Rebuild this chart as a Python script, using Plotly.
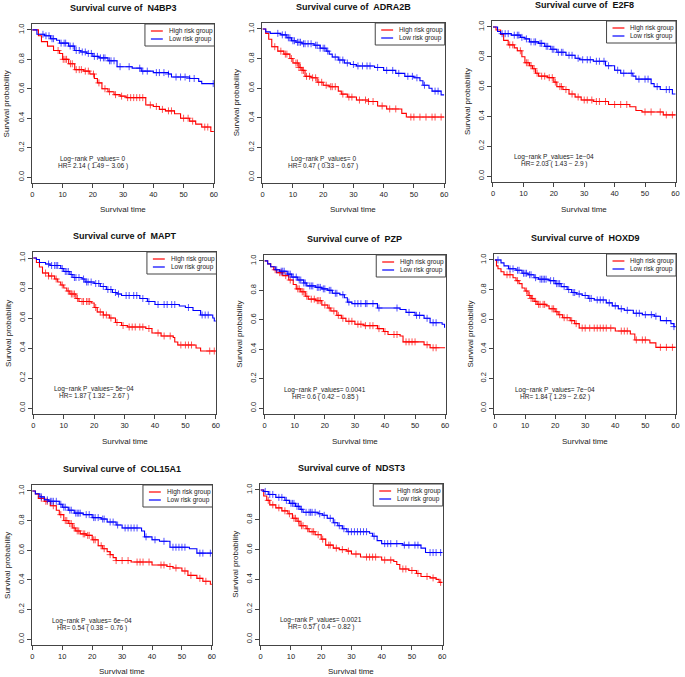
import numpy as np
import plotly.graph_objects as go

W, H = 685, 677
FOLLOW_UP = 60

GENES = ["N4BP3", "ADRA2B", "E2F8", "MAPT", "PZP", "HOXD9", "COL15A1", "NDST3"]
P_VALUES = ["0", "0", "1e−04", "5e−04", "0.0041", "7e−04", "6e−04", "0.0021"]
HR_TEXT = ["2.14 ( 1.49 − 3.06 )", "0.47 ( 0.33 − 0.67 )", "2.03 ( 1.43 − 2.9 )",
           "1.87 ( 1.32 − 2.67 )", "0.6 ( 0.42 − 0.85 )", "1.84 ( 1.29 − 2.62 )",
           "0.54 ( 0.38 − 0.76 )", "0.57 ( 0.4 − 0.82 )"]
GROUPS = ["High risk group", "Low risk group"]
X_TICKS = [0, 10, 20, 30, 40, 50, 60]
Y_TICKS = [0.0, 0.2, 0.4, 0.6, 0.8, 1.0]
Y_TICK_LABELS = ["0.0", "0.2", "0.4", "0.6", "0.8", "1.0"]

# ---- N4BP3 ----
N4BP3_high_time = [0, 2, 3, 5, 7, 9, 10, 12, 14, 17, 19, 20.5, 21.5, 23, 25, 27, 29, 31, 37.5, 40, 42, 44, 47, 49, 52, 54, 56, 59]
N4BP3_high_surv = [1.0, 0.96, 0.92, 0.89, 0.86, 0.84, 0.80, 0.77, 0.73, 0.72, 0.70, 0.67, 0.64, 0.60, 0.58, 0.56, 0.55, 0.54, 0.49, 0.48, 0.46, 0.45, 0.43, 0.40, 0.38, 0.36, 0.34, 0.31]
N4BP3_high_cens = [8.5, 10.2, 10.8, 11.3, 12.6, 13.2, 14.5, 15.5, 16.2, 17.5, 18.5, 20.2, 22, 24, 25.5, 27.5, 29.5, 31.5, 32.5, 33.5, 34.5, 35.5, 36.5, 39, 41, 43, 45, 46, 50, 51.5, 53, 57, 58]
N4BP3_low_time = [0, 1.5, 4, 6, 8, 9, 12, 14, 16, 18, 20, 22, 25, 28, 33, 36, 40, 45, 46, 52, 55, 56]
N4BP3_low_surv = [1.0, 0.97, 0.96, 0.94, 0.93, 0.91, 0.89, 0.86, 0.85, 0.84, 0.82, 0.81, 0.79, 0.75, 0.74, 0.72, 0.71, 0.70, 0.68, 0.67, 0.65, 0.635]
N4BP3_low_cens = [3.5, 4.5, 5.5, 6.5, 7, 9.5, 10.5, 11, 12.5, 13.5, 14.5, 15.5, 16.5, 17.5, 18.5, 19.5, 20.5, 21.5, 22.5, 23.5, 24, 25.5, 26, 27, 29, 32, 35.5, 36.5, 38, 41, 42, 43.5, 45, 47.5, 49, 50.5, 52, 53.5, 59.8]

# ---- ADRA2B ----
ADRA2B_high_time = [0, 1, 2, 3, 5, 7, 9, 10, 12, 13, 14, 16, 18, 20, 22, 25, 26, 28, 31, 35, 38, 41, 46, 47.5]
ADRA2B_high_surv = [1.0, 0.97, 0.93, 0.88, 0.85, 0.83, 0.80, 0.77, 0.74, 0.72, 0.68, 0.67, 0.64, 0.62, 0.61, 0.58, 0.56, 0.54, 0.52, 0.51, 0.48, 0.46, 0.43, 0.405]
ADRA2B_high_cens = [4, 6, 7.5, 8, 9.5, 11, 11.5, 12, 12.5, 13, 13.5, 14.5, 15.5, 16.5, 17.5, 18.5, 19.5, 21, 22.5, 23, 24, 26.5, 28.5, 29.5, 32, 34, 35, 36.5, 39.5, 42, 44, 49, 50, 52, 54, 56, 57, 59]
ADRA2B_low_time = [0, 1, 2.5, 6, 8, 9.5, 11, 13, 17, 19, 21, 22, 23, 25, 27, 29, 31, 37, 40, 44, 47, 50, 52, 53, 55, 56, 59]
ADRA2B_low_surv = [1.0, 0.98, 0.97, 0.96, 0.94, 0.92, 0.91, 0.90, 0.89, 0.87, 0.85, 0.83, 0.81, 0.79, 0.77, 0.76, 0.75, 0.74, 0.72, 0.70, 0.68, 0.67, 0.65, 0.62, 0.60, 0.58, 0.555]
ADRA2B_low_cens = [5, 6.5, 7.5, 8.5, 9, 10, 10.5, 11.5, 12, 12.5, 13.5, 14, 15, 16, 17.5, 18, 19, 20, 20.5, 21.5, 24, 25.5, 26.5, 28, 30, 31.5, 33, 34.5, 35.5, 38, 41, 43, 45, 48, 49.5, 51, 53.5, 57, 58]

# ---- E2F8 ----
E2F8_high_time = [0, 1, 2.5, 3.5, 5, 7, 8, 9.5, 10.5, 12, 13, 14, 15, 18, 20, 21, 23, 25, 27, 29, 33, 38, 45, 47, 49, 56]
E2F8_high_surv = [1.0, 0.98, 0.95, 0.91, 0.88, 0.86, 0.84, 0.80, 0.76, 0.74, 0.72, 0.69, 0.67, 0.66, 0.63, 0.60, 0.58, 0.55, 0.53, 0.51, 0.50, 0.48, 0.465, 0.44, 0.43, 0.41]
E2F8_high_cens = [5.5, 6.5, 9, 11, 11.5, 12.5, 13.5, 14.5, 16, 17, 18.5, 19.5, 20.5, 22, 22.5, 24, 26, 28, 30, 31, 32.5, 34, 35, 37, 40, 42, 44, 50, 52, 55, 57, 59]
E2F8_low_time = [0, 1.5, 2.5, 6, 9, 10.5, 12, 15, 17, 19, 21, 24, 27, 28.5, 33, 37, 40, 42, 46, 47, 52, 53, 55, 59]
E2F8_low_surv = [1.0, 0.97, 0.955, 0.945, 0.93, 0.92, 0.90, 0.89, 0.87, 0.85, 0.83, 0.81, 0.79, 0.78, 0.77, 0.74, 0.71, 0.69, 0.67, 0.65, 0.62, 0.60, 0.58, 0.55]
E2F8_low_cens = [3, 4, 5, 7, 8, 8.5, 9.5, 11, 12.5, 13.5, 14, 15.5, 16, 17.5, 18, 19.5, 20, 21.5, 22.5, 23, 25, 26, 28, 29.5, 31, 32, 34, 35, 36.5, 38, 41, 43, 45.5, 48, 50, 51, 54, 57, 58]

# ---- MAPT ----
MAPT_high_time = [0, 1, 2, 3, 5, 7, 8, 9, 10, 11, 12, 14, 15, 19, 20, 21, 23, 25, 27, 29, 31, 37, 39, 42, 46, 46.5, 47.5, 53.5, 55]
MAPT_high_surv = [1.0, 0.97, 0.94, 0.90, 0.88, 0.86, 0.84, 0.82, 0.80, 0.78, 0.76, 0.73, 0.71, 0.70, 0.67, 0.64, 0.62, 0.60, 0.57, 0.55, 0.54, 0.53, 0.50, 0.48, 0.47, 0.44, 0.42, 0.40, 0.38]
MAPT_high_cens = [4, 5, 6, 7.5, 9.5, 11.5, 12.5, 13, 13.5, 14.5, 16, 16.5, 17.5, 18, 18.5, 20.5, 22, 23, 24, 25.5, 27.5, 29.5, 31.5, 32.5, 33.5, 35, 36, 38, 41, 43, 45, 48.5, 50, 51, 52, 58, 59.5]
MAPT_low_time = [0, 1, 2, 4, 5.5, 9, 10, 12, 13, 16, 17, 20, 22, 24, 26, 27.5, 29, 35, 37.5, 40, 48, 50, 52.5, 55, 59, 59.5]
MAPT_low_surv = [1.0, 0.99, 0.97, 0.96, 0.95, 0.93, 0.91, 0.89, 0.87, 0.86, 0.84, 0.83, 0.81, 0.79, 0.77, 0.76, 0.75, 0.73, 0.71, 0.69, 0.68, 0.67, 0.65, 0.62, 0.60, 0.58]
MAPT_low_cens = [5, 6, 7, 7.5, 8, 9.5, 10.5, 11, 11.5, 12.5, 13.5, 14, 15, 16.5, 17.5, 18, 19, 20.5, 21.5, 23, 24.5, 25.5, 27, 28, 30.5, 31.5, 33, 34, 36, 38, 41, 43, 44, 45.5, 46.5, 51, 55.5, 56.5, 57.5]

# ---- PZP ----
PZP_high_time = [0, 1, 2, 3, 4, 6, 8, 9.5, 10.5, 12, 13.5, 14.5, 17, 19, 21, 22, 24, 25.5, 27, 30, 33, 37.5, 39.5, 41, 45, 46, 53, 55]
PZP_high_surv = [1.0, 0.98, 0.96, 0.94, 0.92, 0.90, 0.87, 0.84, 0.81, 0.79, 0.76, 0.74, 0.73, 0.70, 0.68, 0.66, 0.63, 0.61, 0.59, 0.57, 0.56, 0.54, 0.52, 0.50, 0.49, 0.45, 0.43, 0.41]
PZP_high_cens = [3.5, 5, 5.5, 7, 8.5, 11, 11.5, 12.5, 13, 14, 15.5, 16.5, 17.5, 18, 18.5, 20, 21.5, 23, 24.5, 26, 28, 29, 31, 32, 33.5, 35, 36, 38, 40, 43, 44, 47, 48, 49, 50, 54, 56, 57]
PZP_low_time = [0, 1, 2, 3.5, 5, 7.5, 9, 11, 13, 14, 17, 19, 21, 22.5, 25, 26.5, 27.5, 29, 37.5, 45, 47, 50, 53, 55, 59, 59.8]
PZP_low_surv = [1.0, 0.98, 0.96, 0.94, 0.93, 0.91, 0.89, 0.87, 0.85, 0.83, 0.82, 0.81, 0.80, 0.78, 0.77, 0.75, 0.72, 0.71, 0.68, 0.67, 0.65, 0.63, 0.61, 0.58, 0.57, 0.55]
PZP_low_cens = [4, 5.5, 6, 6.5, 8, 8.5, 9.5, 10.5, 11.5, 12, 13, 13.5, 15, 15.5, 16, 17.5, 18, 18.5, 19.5, 20, 21.5, 22, 23.5, 24, 26, 28, 30, 31, 32, 33.5, 34, 36, 38, 44, 48, 50.5, 51.5, 54, 56, 57]

# ---- HOXD9 ----
HOXD9_high_time = [0, 0.5, 1, 2, 3, 6, 7, 8, 9, 10, 11, 12, 13, 14, 17, 18, 20, 21, 22.5, 25, 26.5, 28, 40, 45, 46.5, 51.5, 53.5]
HOXD9_high_surv = [1.0, 0.96, 0.94, 0.92, 0.90, 0.88, 0.86, 0.84, 0.81, 0.79, 0.76, 0.74, 0.72, 0.70, 0.69, 0.67, 0.65, 0.63, 0.61, 0.59, 0.57, 0.54, 0.52, 0.50, 0.46, 0.44, 0.41]
HOXD9_high_cens = [4, 5, 7.5, 10.5, 11.5, 12, 12.5, 13.5, 14.5, 15, 16, 16.5, 19, 19.5, 20.5, 21.5, 23, 24, 25.5, 27, 29, 30, 31.5, 33, 34, 35, 36, 37, 38.5, 42, 43, 44, 47, 49, 50, 55, 57, 59]
HOXD9_low_time = [0, 2, 3, 4.5, 7, 9, 11, 13, 14.5, 18, 20, 22, 24, 25.5, 27, 29, 31, 33, 37, 39, 41, 43, 46, 49, 53, 55, 58.5, 59.5]
HOXD9_low_surv = [1.0, 0.98, 0.96, 0.94, 0.93, 0.91, 0.90, 0.88, 0.87, 0.86, 0.84, 0.82, 0.80, 0.78, 0.77, 0.76, 0.74, 0.73, 0.71, 0.69, 0.67, 0.66, 0.64, 0.63, 0.62, 0.59, 0.57, 0.55]
HOXD9_low_cens = [1, 5, 6, 7.5, 8, 9.5, 10, 10.5, 11.5, 12, 13.5, 15, 15.5, 16, 16.5, 17, 18.5, 19.5, 20.5, 21, 21.5, 23, 24.5, 26, 26.5, 28, 30, 31.5, 32, 34, 35, 36, 38, 40, 42, 44, 47, 48, 50, 52, 53.5, 57, 59.5]

# ---- COL15A1 ----
COL15A1_high_time = [0, 1, 2, 4, 6, 8, 9, 10.5, 12, 13.5, 14.5, 16, 18, 20, 22, 23.5, 25, 26, 27, 28, 33, 40, 45, 47, 50, 52, 55, 57, 59.5]
COL15A1_high_surv = [1.0, 0.98, 0.95, 0.93, 0.90, 0.87, 0.84, 0.80, 0.78, 0.75, 0.73, 0.71, 0.70, 0.67, 0.63, 0.61, 0.59, 0.57, 0.55, 0.53, 0.52, 0.50, 0.49, 0.48, 0.46, 0.43, 0.41, 0.39, 0.37]
COL15A1_high_cens = [3, 4.5, 5, 7, 9.5, 11, 11.5, 12.5, 13, 14, 15, 15.5, 17, 17.5, 18.5, 19, 20.5, 21, 23, 24, 26, 28, 30, 32, 35, 36, 37, 39, 43, 44, 46, 48, 51, 53, 56, 58]
COL15A1_low_time = [0, 1, 2.5, 4, 5.5, 9, 10, 12, 14, 17, 20, 23, 25, 28, 30, 36.5, 37.5, 40, 42.5, 46, 52.5, 55]
COL15A1_low_surv = [1.0, 0.98, 0.96, 0.94, 0.93, 0.91, 0.89, 0.87, 0.85, 0.84, 0.82, 0.81, 0.79, 0.77, 0.75, 0.73, 0.69, 0.67, 0.66, 0.62, 0.61, 0.58]
COL15A1_low_cens = [3, 5, 6, 6.5, 7, 8, 9.5, 10.5, 11, 12.5, 13, 14.5, 15, 15.5, 16, 18, 19, 20.5, 21, 22, 23.5, 24, 26, 27, 28.5, 31, 32, 33, 34, 35, 38, 41, 44, 47, 48, 49, 50, 51, 56, 57, 59.5]

# ---- NDST3 ----
NDST3_high_time = [0, 1, 2, 3, 5, 7, 9, 10.5, 12, 13, 15, 16, 18, 20, 21.5, 24, 26, 28.5, 30, 33, 40, 44, 45, 46, 49, 51.5, 53, 56, 58, 59]
NDST3_high_surv = [1.0, 0.96, 0.93, 0.90, 0.88, 0.86, 0.84, 0.81, 0.79, 0.76, 0.74, 0.72, 0.70, 0.67, 0.63, 0.61, 0.60, 0.59, 0.57, 0.55, 0.53, 0.52, 0.50, 0.47, 0.46, 0.44, 0.42, 0.41, 0.40, 0.38]
NDST3_high_cens = [2.5, 4, 6, 8, 9.5, 11, 11.5, 12.5, 13.5, 14, 15.5, 17, 17.5, 19, 20.5, 22.5, 23, 25, 27, 29, 31.5, 35, 36, 37, 38, 41, 43, 47, 48, 50, 52, 55, 57, 59.5]
NDST3_low_time = [0, 1, 2.5, 5, 8, 9.5, 11.5, 13, 14, 19, 20.5, 22, 24, 25.5, 27, 28.5, 36, 37, 38.5, 40, 47, 53, 54.5]
NDST3_low_surv = [1.0, 0.99, 0.97, 0.95, 0.93, 0.91, 0.89, 0.87, 0.85, 0.84, 0.83, 0.81, 0.78, 0.76, 0.74, 0.72, 0.71, 0.69, 0.66, 0.64, 0.63, 0.61, 0.58]
NDST3_low_cens = [1.5, 3, 4, 6, 7, 8.5, 10, 10.5, 11, 12, 12.5, 13.5, 15, 16, 16.5, 17, 18, 19.5, 21, 23, 24.5, 26, 27.5, 29, 30, 31, 32, 33, 34, 35, 37.5, 41, 42, 43, 45, 47.5, 49, 51, 52, 56, 57, 58, 59.5]

CURVES = {
    "N4BP3": [(N4BP3_high_time, N4BP3_high_surv, N4BP3_high_cens), (N4BP3_low_time, N4BP3_low_surv, N4BP3_low_cens)],
    "ADRA2B": [(ADRA2B_high_time, ADRA2B_high_surv, ADRA2B_high_cens), (ADRA2B_low_time, ADRA2B_low_surv, ADRA2B_low_cens)],
    "E2F8": [(E2F8_high_time, E2F8_high_surv, E2F8_high_cens), (E2F8_low_time, E2F8_low_surv, E2F8_low_cens)],
    "MAPT": [(MAPT_high_time, MAPT_high_surv, MAPT_high_cens), (MAPT_low_time, MAPT_low_surv, MAPT_low_cens)],
    "PZP": [(PZP_high_time, PZP_high_surv, PZP_high_cens), (PZP_low_time, PZP_low_surv, PZP_low_cens)],
    "HOXD9": [(HOXD9_high_time, HOXD9_high_surv, HOXD9_high_cens), (HOXD9_low_time, HOXD9_low_surv, HOXD9_low_cens)],
    "COL15A1": [(COL15A1_high_time, COL15A1_high_surv, COL15A1_high_cens), (COL15A1_low_time, COL15A1_low_surv, COL15A1_low_cens)],
    "NDST3": [(NDST3_high_time, NDST3_high_surv, NDST3_high_cens), (NDST3_low_time, NDST3_low_surv, NDST3_low_cens)],
}

# ---- layout (pixel boxes of each plotting region: left, right, top, bottom) ----
BOXES = [(31, 215, 24, 183), (263, 447, 23, 183), (495, 680, 21, 182),
         (32, 217, 252, 414), (265, 448, 255, 414), (497, 680, 254, 414),
         (31, 213, 485, 645), (261, 445, 484, 645)]
COLORS = ["#FF0000", "#0000FF"]
FONT = "Liberation Sans, Arial, Helvetica, sans-serif"
TXT = "#222222"
AX = "#444444"


def px(x):
    return x / W


def py(y):
    return 1 - y / H


def surv_at(times, surv, t):
    idx = np.searchsorted(np.asarray(times), np.asarray(t), side="right") - 1
    return np.asarray(surv)[idx]


fig = go.Figure()
annotations = []
shapes = []
layout_axes = {}

for i, gene in enumerate(GENES):
    n = "" if i == 0 else str(i + 1)
    xref, yref = "x" + n, "y" + n
    l, r, t, b = BOXES[i]
    for g, (times, surv, cens) in enumerate(CURVES[gene]):
        fig.add_trace(go.Scatter(
            x=list(times) + [FOLLOW_UP], y=list(surv) + [surv[-1]],
            mode="lines", line=dict(shape="hv", width=1.1, color=COLORS[g]),
            xaxis=xref, yaxis=yref, showlegend=False, hoverinfo="skip"))
        fig.add_trace(go.Scatter(
            x=cens, y=surv_at(times, surv, cens), mode="markers",
            marker=dict(symbol="cross-thin", size=5, color=COLORS[g],
                        line=dict(width=0.9, color=COLORS[g])),
            opacity=0.75, xaxis=xref, yaxis=yref, showlegend=False, hoverinfo="skip"))

    layout_axes["xaxis" + n] = dict(
        domain=[px(l), px(r)], range=[-0.2, 60.2], anchor=yref,
        tickvals=X_TICKS, ticks="outside", ticklen=4, tickwidth=1, tickcolor=AX,
        showline=True, linecolor=AX, linewidth=1, mirror=True,
        showgrid=False, zeroline=False, tickfont=dict(size=7.5, color=TXT, family=FONT))
    layout_axes["yaxis" + n] = dict(
        domain=[py(b), py(t)], range=[-0.04, 1.04], anchor=xref,
        tickvals=Y_TICKS, ticktext=Y_TICK_LABELS, tickangle=-90,
        ticks="outside", ticklen=4, tickwidth=1, tickcolor=AX,
        showline=True, linecolor=AX, linewidth=1, mirror=True,
        showgrid=False, zeroline=False, tickfont=dict(size=7.5, color=TXT, family=FONT))

    cx = (l + r) / 2
    cy = (t + b) / 2
    annotations.append(dict(text="<b>Survival curve of  " + gene + "</b>", x=px(cx), y=py(t - 16),
                            xref="paper", yref="paper", showarrow=False, xanchor="center", yanchor="middle",
                            font=dict(size=9, color="#111", family=FONT)))
    annotations.append(dict(text="Survival time", x=px(cx), y=py(min(b + 27, 671)),
                            xref="paper", yref="paper", showarrow=False, xanchor="center", yanchor="middle",
                            font=dict(size=8, color=TXT, family=FONT)))
    annotations.append(dict(text="Survival probability", x=px(l - 25), y=py(cy), textangle=-90,
                            xref="paper", yref="paper", showarrow=False, xanchor="center", yanchor="middle",
                            font=dict(size=8, color=TXT, family=FONT)))
    annotations.append(dict(text="Log−rank P_values= " + P_VALUES[i], x=20, y=0.125,
                            xref=xref, yref=yref, showarrow=False, xanchor="center", yanchor="middle",
                            font=dict(size=6.5, color=TXT, family=FONT)))
    annotations.append(dict(text="HR= " + HR_TEXT[i], x=20, y=0.078,
                            xref=xref, yref=yref, showarrow=False, xanchor="center", yanchor="middle",
                            font=dict(size=6.5, color=TXT, family=FONT)))

    # legend box
    shapes.append(dict(type="rect", xref="paper", yref="paper",
                       x0=px(r - 70), x1=px(r), y0=py(t + 22), y1=py(t),
                       line=dict(color=AX, width=1), fillcolor="white", layer="above"))
    for g, name in enumerate(GROUPS):
        yy = t + 7 + 8 * g
        shapes.append(dict(type="line", xref="paper", yref="paper",
                           x0=px(r - 64), x1=px(r - 52), y0=py(yy), y1=py(yy),
                           line=dict(color=COLORS[g], width=1.2), layer="above"))
        annotations.append(dict(text=name, x=px(r - 48), y=py(yy), xref="paper", yref="paper",
                                showarrow=False, xanchor="left", yanchor="middle",
                                font=dict(size=6.5, color=TXT, family=FONT)))

fig.update_layout(
    width=W, height=H, margin=dict(l=0, r=0, t=0, b=0),
    paper_bgcolor="white", plot_bgcolor="white",
    annotations=annotations, shapes=shapes, showlegend=False,
    font=dict(family=FONT, color=TXT),
    **layout_axes)

fig.write_html("out.html",
               config={"displayModeBar": False, "staticPlot": True},
               post_script="document.body.style.margin='0';"
                           "document.documentElement.style.overflow='hidden';")
